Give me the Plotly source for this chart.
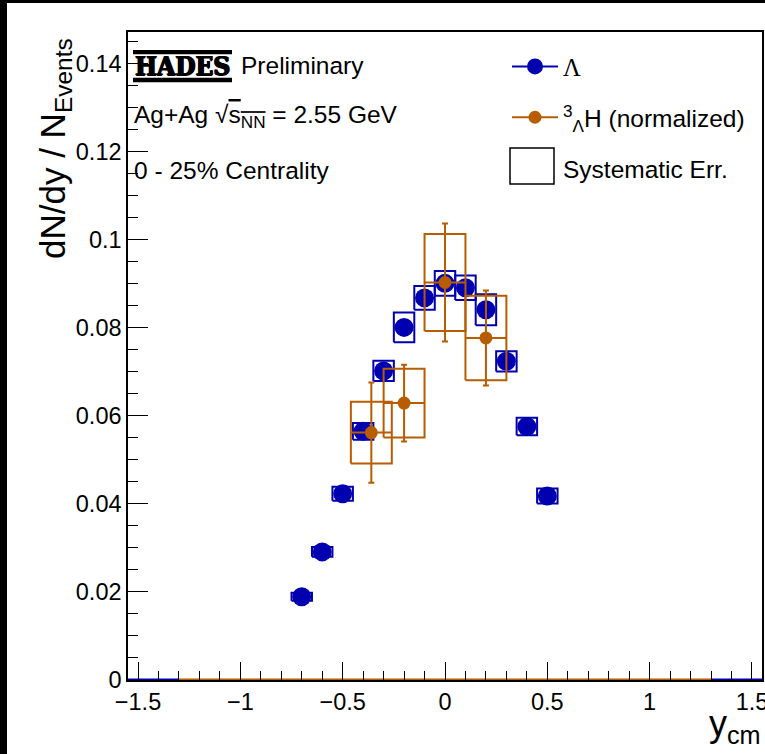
import plotly.graph_objects as go

# ---------------- data ----------------
lambda_ycm = [-0.7, -0.6, -0.5, -0.4, -0.3, -0.2, -0.1, 0.0, 0.1, 0.2, 0.3, 0.4, 0.5]
lambda_dndy = [0.0189, 0.0291, 0.0423, 0.0565, 0.0702, 0.0801, 0.0868, 0.0901, 0.0891, 0.0841, 0.0724, 0.0576, 0.0418]
lambda_sys = [0.0009, 0.0011, 0.0016, 0.0019, 0.0023, 0.0034, 0.0027, 0.0028, 0.0028, 0.0035, 0.0023, 0.0020, 0.0017]
lambda_binhalf = [0.05] * 13

ht_ycm = [-0.36, -0.2, 0.0, 0.2]
ht_dndy = [0.0562, 0.0629, 0.0903, 0.0777]
ht_stat = [0.0114, 0.0087, 0.0134, 0.0108]
ht_sys = [0.0070, 0.0078, 0.0110, 0.0096]
ht_binhalf = [0.1, 0.1, 0.1, 0.1]

# empty histogram baselines drawn along y = 0
base_lambda_edges = [[-1.55, -1.3], [1.3, 1.55]]
base_ht_edges = [-1.3, 1.3]
base_value = 0.0

x_range = [-1.549, 1.549]
y_range = [0.0, 0.1472]

BLUE = "#0000B0"
ORANGE = "#B85C00"
FONT = "Liberation Sans, Arial, Helvetica, sans-serif"


def box_path(xc, yc, hx, hy):
    xs, ys = [], []
    for x, y, dx, dy in zip(xc, yc, hx, hy):
        xs += [x - dx, x + dx, x + dx, x - dx, x - dx, None]
        ys += [y - dy, y - dy, y + dy, y + dy, y - dy, None]
    return xs, ys


fig = go.Figure()

# baselines
for e in base_lambda_edges:
    fig.add_trace(go.Scatter(x=e, y=[base_value, base_value], mode="lines",
                             line=dict(color=BLUE, width=3), showlegend=False,
                             hoverinfo="skip", cliponaxis=False))
fig.add_trace(go.Scatter(x=base_ht_edges, y=[base_value, base_value], mode="lines",
                         line=dict(color=ORANGE, width=3), showlegend=False,
                         hoverinfo="skip", cliponaxis=False))

# Lambda markers
fig.add_trace(go.Scatter(x=lambda_ycm, y=lambda_dndy, mode="markers",
                         marker=dict(color=BLUE, size=19, line=dict(width=0)),
                         showlegend=False))
# Lambda systematic boxes
bx, by = box_path(lambda_ycm, lambda_dndy, lambda_binhalf, lambda_sys)
fig.add_trace(go.Scatter(x=bx, y=by, mode="lines", line=dict(color=BLUE, width=2),
                         showlegend=False, hoverinfo="skip"))
# Hypertriton systematic boxes
hx, hy = box_path(ht_ycm, ht_dndy, ht_binhalf, ht_sys)
fig.add_trace(go.Scatter(x=hx, y=hy, mode="lines", line=dict(color=ORANGE, width=2),
                         showlegend=False, hoverinfo="skip"))
# Hypertriton points with stat errors
fig.add_trace(go.Scatter(x=ht_ycm, y=ht_dndy, mode="markers",
                         marker=dict(color=ORANGE, size=13, line=dict(width=0)),
                         error_y=dict(type="data", array=ht_stat, color=ORANGE, thickness=2, width=3),
                         error_x=dict(type="data", array=ht_binhalf, color=ORANGE, thickness=2, width=0),
                         showlegend=False))

# legend entries
fig.add_trace(go.Scatter(x=[None], y=[None], mode="lines+markers",
                         name="<span style='font-family:Liberation Serif'>Λ</span>",
                         marker=dict(color=BLUE, size=19), line=dict(color=BLUE, width=2),
                         legendgroup="a"))
fig.add_trace(go.Scatter(x=[None], y=[None], mode="lines+markers",
                         name="<sup>3</sup><sub>Λ</sub>H (normalized)",
                         marker=dict(color=ORANGE, size=13), line=dict(color=ORANGE, width=2),
                         legendgroup="b"))
fig.add_trace(go.Scatter(x=[None], y=[None], mode="markers", name="Systematic Err.",
                         marker=dict(symbol="square-open", size=12, color="rgba(0,0,0,0)"),
                         legendgroup="c"))

axis_common = dict(showline=True, linecolor="black", linewidth=1.5, mirror=True,
                   showgrid=False, zeroline=False, ticks="inside", tickcolor="black",
                   tickwidth=1, tickfont=dict(family=FONT, size=23.5, color="black"),
                   ticklabeloverflow="allow", automargin=False)

fig.update_xaxes(range=x_range, dtick=0.5, tick0=0, ticklen=18,
                 minor=dict(dtick=0.1, ticklen=9, ticks="inside", tickcolor="black", tickwidth=1),
                 **axis_common)
fig.update_yaxes(range=y_range, dtick=0.02, tick0=0, ticklen=20,
                 minor=dict(dtick=0.005, ticklen=10, ticks="inside", tickcolor="black", tickwidth=1),
                 **axis_common)

W, H = 765, 754
L, R, T, B = 128, 3, 32, 74
pw, ph = W - L - R, H - T - B


def px(xp):
    return (xp - L) / pw


def py(yp):
    return 1 - (yp - T) / ph


fig.update_layout(
    width=W, height=H,
    margin=dict(l=L, r=R, t=T, b=B, pad=0, autoexpand=False),
    paper_bgcolor="white", plot_bgcolor="white",
    font=dict(family=FONT, color="black"),
    legend=dict(x=px(507), y=py(44), xanchor="left", yanchor="top",
                font=dict(family=FONT, size=24.5, color="black"),
                bgcolor="rgba(0,0,0,0)", tracegroupgap=16, itemwidth=46,
                traceorder="grouped"),
)

shapes = [
    # HADES logo bars
    dict(type="rect", xref="paper", yref="paper", x0=px(133), x1=px(232), y0=py(54.3), y1=py(50),
         fillcolor="black", line=dict(width=0)),
    dict(type="rect", xref="paper", yref="paper", x0=px(133), x1=px(232), y0=py(82.3), y1=py(77.7),
         fillcolor="black", line=dict(width=0)),
    # legend box for systematic errors
    dict(type="rect", xref="paper", yref="paper", x0=px(510), x1=px(554), y0=py(184), y1=py(148),
         fillcolor="white", line=dict(color="black", width=1.5)),
    # black edge bands
    dict(type="rect", xref="paper", yref="paper", x0=px(0), x1=px(7), y0=py(H), y1=py(0),
         fillcolor="black", line=dict(width=0)),
    dict(type="rect", xref="paper", yref="paper", x0=px(0), x1=px(W), y0=py(3), y1=py(0),
         fillcolor="black", line=dict(width=0)),
]
fig.update_layout(shapes=shapes)

ann = [
    dict(text="<b>HADES</b>", x=px(133), y=py(66.5), xanchor="left", yanchor="middle",
         font=dict(family="DejaVu Serif Condensed, DejaVu Serif, serif", size=26, color="black",
                   shadow="0.8px 0 0 black, -0.8px 0 0 black, 0 0.6px 0 black")),
    dict(text="Preliminary", x=px(239), y=py(65), xanchor="left", yanchor="middle",
         font=dict(family=FONT, size=24.5)),
    dict(text="Ag+Ag √<span style='text-decoration:overline'>s<sub>NN</sub></span> = 2.55 GeV",
         x=px(132), y=py(116), xanchor="left", yanchor="middle",
         font=dict(family=FONT, size=24.5)),
    dict(text="0 - 25% Centrality", x=px(132), y=py(170), xanchor="left", yanchor="middle",
         font=dict(family=FONT, size=24.5)),
    dict(text="dN/dy / N<sub>Events</sub>", x=px(55), y=py(149), xanchor="center", yanchor="middle",
         textangle=-90, font=dict(family=FONT, size=35)),
    dict(text="y<sub>cm</sub>", x=px(763), y=py(726), xanchor="right", yanchor="middle",
         font=dict(family=FONT, size=36)),
]
for a in ann:
    a.update(xref="paper", yref="paper", showarrow=False)
fig.update_layout(annotations=ann)

post = ("document.documentElement.style.margin='0px';"
        "document.body.style.margin='0px';"
        "document.body.style.overflow='hidden';"
        "document.documentElement.style.overflow='hidden';"
        "var gd=document.getElementById('{plot_id}');"
        "gd.style.lineHeight='0';gd.style.overflow='hidden';"
        "gd.parentNode.style.lineHeight='0';")

fig.write_html("out.html", config={"displayModeBar": False}, post_script=post)
